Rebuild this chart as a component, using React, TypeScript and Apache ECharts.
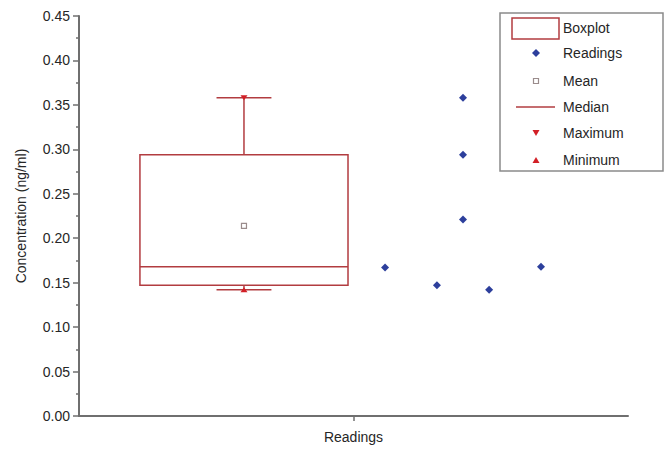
import React, { useEffect, useRef } from "react";
import * as echarts from "echarts";

// Data
const readings = [0.167, 0.147, 0.358, 0.294, 0.221, 0.142, 0.168];
const readingsX = [1.115, 1.304, 1.399, 1.399, 1.399, 1.494, 1.683];
// [min, Q1, median, Q3, max]
const boxStats = [0.142, 0.147, 0.168, 0.294, 0.358];
const meanValue = 0.214;
const boxX = 0.601;
const categoryLabels = ["Readings"];
const categoryTicks = [1];
const yTicks = { min: 0, max: 0.45, interval: 0.05 };
const legendNames = ["Boxplot", "Readings", "Mean", "Median", "Maximum", "Minimum"];

const BOX_RED = "#b23c40";
const MARK_RED = "#d21f26";
const BLUE = "#2d3f9c";
const AXIS = "#6f6f6f";
const TEXT = "#262626";
const FONT = "'Liberation Sans', Arial, sans-serif";

export default function App() {
  const ref = useRef<HTMLDivElement>(null);
  useEffect(() => {
    document.body.style.margin = "0";
    if (!ref.current) return;
    const chart = echarts.init(ref.current, undefined, { renderer: "svg" });

    const boxHalf = 0.379;
    const capHalf = 0.1;

    const lx = 500, ly = 13;
    const rowY = [28, 53, 81, 107, 133, 160];
    const iconX = 536;
    const textX = 563;

    const legendChildren: any[] = [
      {
        type: "rect",
        shape: { x: lx, y: ly, width: 163, height: 158 },
        style: { fill: "#fff", stroke: "#8a8a8a", lineWidth: 1.5 },
      },
      {
        type: "rect",
        shape: { x: 512, y: 18, width: 47, height: 21 },
        style: { fill: "#fff", stroke: BOX_RED, lineWidth: 1.5 },
      },
      {
        type: "polygon",
        shape: { points: [[iconX, rowY[1] - 4], [iconX + 4, rowY[1]], [iconX, rowY[1] + 4], [iconX - 4, rowY[1]]] },
        style: { fill: BLUE },
      },
      {
        type: "rect",
        shape: { x: iconX - 2.5, y: rowY[2] - 2.5, width: 5, height: 5 },
        style: { fill: "#fff", stroke: "#9a8c8c", lineWidth: 1.2 },
      },
      {
        type: "line",
        shape: { x1: 516, y1: rowY[3], x2: 555, y2: rowY[3] },
        style: { stroke: BOX_RED, lineWidth: 1.5 },
      },
      {
        type: "polygon",
        shape: { points: [[iconX - 3.5, rowY[4] - 3], [iconX + 3.5, rowY[4] - 3], [iconX, rowY[4] + 3]] },
        style: { fill: MARK_RED },
      },
      {
        type: "polygon",
        shape: { points: [[iconX - 3.5, rowY[5] + 3], [iconX + 3.5, rowY[5] + 3], [iconX, rowY[5] - 3]] },
        style: { fill: MARK_RED },
      },
    ];
    legendNames.forEach((n, i) => {
      legendChildren.push({
        type: "text",
        style: {
          x: textX,
          y: rowY[i],
          text: n,
          fill: TEXT,
          font: `14px ${FONT}`,
          verticalAlign: "middle",
        },
      });
    });

    chart.setOption({
      animation: false,
      backgroundColor: "#fff",
      textStyle: { fontFamily: FONT },
      grid: { left: 79, right: 44, top: 16, bottom: 33, containLabel: false },
      xAxis: {
        type: "value",
        min: 0,
        max: 2,
        axisLine: { show: true, onZero: false, lineStyle: { color: AXIS, width: 2 } },
        axisTick: { show: true, customValues: categoryTicks, length: 5, lineStyle: { color: AXIS, width: 1.5 } },
        axisLabel: {
          show: true,
          customValues: categoryTicks,
          formatter: (v: number) => {
            const i = categoryTicks.indexOf(v);
            return i >= 0 ? categoryLabels[i] : "";
          },
          color: TEXT,
          fontSize: 14,
          fontFamily: FONT,
          margin: 14,
        },
        splitLine: { show: false },
      },
      yAxis: {
        type: "value",
        min: yTicks.min,
        max: yTicks.max,
        interval: yTicks.interval,
        name: "Concentration (ng/ml)",
        nameLocation: "middle",
        nameGap: 51,
        nameTextStyle: { color: TEXT, fontSize: 14, fontFamily: FONT },
        axisLine: { show: true, lineStyle: { color: AXIS, width: 2 } },
        axisTick: { show: true, length: 6, lineStyle: { color: AXIS, width: 1.5 } },
        minorTick: { show: true, splitNumber: 2, length: 3, lineStyle: { color: AXIS, width: 1.5 } },
        axisLabel: {
          formatter: (v: number) => v.toFixed(2),
          color: TEXT,
          fontSize: 14,
          fontFamily: FONT,
          margin: 9,
        },
        splitLine: { show: false },
      },
      series: [
        {
          type: "custom",
          data: [[boxX, ...boxStats]],
          encode: { x: 0, y: [1, 2, 3, 4, 5] },
          renderItem: (params: any, api: any) => {
            const x = api.value(0);
            const mn = api.value(1), q1 = api.value(2), md = api.value(3), q3 = api.value(4), mx = api.value(5);
            const pl = api.coord([x - boxHalf, q3]);
            const pr = api.coord([x + boxHalf, q1]);
            const pc = (v: number) => api.coord([x, v]);
            const cl = api.coord([x - capHalf, 0])[0];
            const cr = api.coord([x + capHalf, 0])[0];
            const lineStyle = { stroke: BOX_RED, lineWidth: 1.5, fill: "none" };
            const pMed = api.coord([x - boxHalf, md]);
            const pMedR = api.coord([x + boxHalf, md]);
            return {
              type: "group",
              children: [
                { type: "line", shape: { x1: pc(q3)[0], y1: pc(q3)[1], x2: pc(mx)[0], y2: pc(mx)[1] }, style: lineStyle },
                { type: "line", shape: { x1: pc(q1)[0], y1: pc(q1)[1], x2: pc(mn)[0], y2: pc(mn)[1] }, style: lineStyle },
                { type: "line", shape: { x1: cl, y1: pc(mx)[1], x2: cr, y2: pc(mx)[1] }, style: lineStyle },
                { type: "line", shape: { x1: cl, y1: pc(mn)[1], x2: cr, y2: pc(mn)[1] }, style: lineStyle },
                {
                  type: "rect",
                  shape: { x: pl[0], y: pl[1], width: pr[0] - pl[0], height: pr[1] - pl[1] },
                  style: { stroke: BOX_RED, lineWidth: 1.5, fill: "none" },
                },
                { type: "line", shape: { x1: pMed[0], y1: pMed[1], x2: pMedR[0], y2: pMedR[1] }, style: lineStyle },
              ],
            };
          },
          silent: true,
          z: 2,
        },
        {
          type: "scatter",
          data: [[boxX, meanValue]],
          symbol: "rect",
          symbolSize: 5,
          itemStyle: { color: "#fff", borderColor: "#9a8c8c", borderWidth: 1.2, opacity: 1 },
          z: 3,
        },
        {
          type: "scatter",
          data: [[boxX, boxStats[4]]],
          symbol: "triangle",
          symbolRotate: 180,
          symbolSize: [7, 5],
          itemStyle: { color: MARK_RED, opacity: 1 },
          z: 4,
        },
        {
          type: "scatter",
          data: [[boxX, boxStats[0]]],
          symbol: "triangle",
          symbolSize: [7, 5],
          itemStyle: { color: MARK_RED, opacity: 1 },
          z: 4,
        },
        {
          type: "scatter",
          data: readings.map((v, i) => [readingsX[i], v]),
          symbol: "diamond",
          symbolSize: 8,
          itemStyle: { color: BLUE, opacity: 1 },
          z: 5,
        },
      ],
      graphic: [{ type: "group", z: 100, children: legendChildren }],
    });
    return () => chart.dispose();
  }, []);
  return <div ref={ref} style={{ width: 672, height: 449, overflow: "hidden" }} />;
}
